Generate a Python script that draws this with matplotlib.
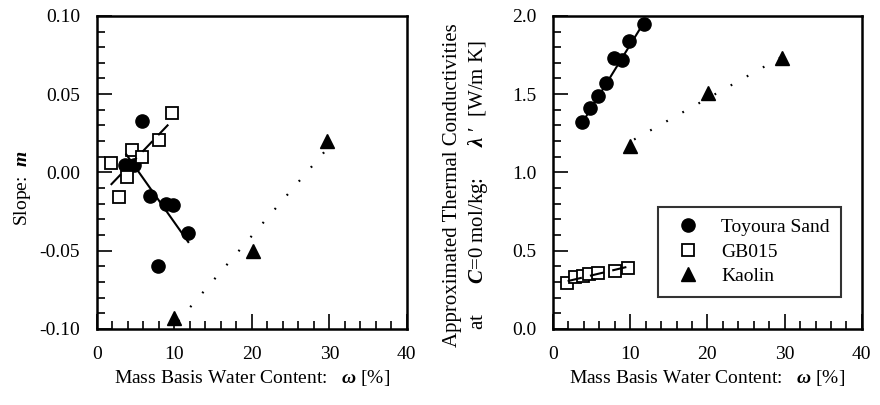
import numpy as np
import matplotlib
matplotlib.use('Agg')
import matplotlib.pyplot as plt

plt.rcParams['font.family'] = 'Liberation Serif'
plt.rcParams['mathtext.fontset'] = 'custom'
plt.rcParams['mathtext.rm'] = 'Liberation Serif'
plt.rcParams['mathtext.it'] = 'Liberation Serif:italic'
plt.rcParams['mathtext.bf'] = 'Liberation Serif:bold'
plt.rcParams['mathtext.bfit'] = 'Liberation Serif:italic:bold'

# Water content of the samples (%)
w_sand = [3.7, 4.8, 5.8, 6.9, 7.9, 8.9, 9.8, 11.8]
w_gb = [1.8, 2.9, 3.9, 4.6, 5.8, 8.0, 9.7]
w_kaolin = [10.0, 20.1, 29.7]

# Slope m
m_sand = [0.005, 0.005, 0.033, -0.015, -0.060, -0.020, -0.021, -0.039]
m_gb = [0.006, -0.016, -0.003, 0.014, 0.010, 0.021, 0.038]
m_kaolin = [-0.093, -0.050, 0.020]

# Approximated thermal conductivity at C=0 (W/m K)
lam_sand = [1.32, 1.41, 1.49, 1.57, 1.73, 1.72, 1.84, 1.95]
lam_gb = [0.29, 0.33, 0.34, 0.35, 0.36, 0.37, 0.39]
lam_kaolin = [1.17, 1.51, 1.73]

# Fitted lines (end points)
fit_m_sand_x, fit_m_sand_y = [3.8, 11.8], [0.0115, -0.0445]
fit_m_gb_x, fit_m_gb_y = [1.8, 9.7], [-0.008, 0.033]
fit_m_kaolin_x, fit_m_kaolin_y = [10.5, 29.7], [-0.095, 0.015]
fit_lam_sand_x, fit_lam_sand_y = [3.7, 11.8], [1.31, 1.96]
fit_lam_gb_x, fit_lam_gb_y = [1.9, 9.5], [0.305, 0.395]
fit_lam_kaolin_x, fit_lam_kaolin_y = [10.5, 29.7], [1.21, 1.74]

fs = 14
fig = plt.figure(figsize=(8.8, 4.05), dpi=100)


def style_axes(ax):
    for s in ax.spines.values():
        s.set_linewidth(1.8)
    ax.tick_params(axis='both', which='both', direction='in', top=False, right=False,
                   labelsize=fs, width=1.2)
    ax.tick_params(axis='both', which='major', length=11)
    ax.tick_params(axis='both', which='minor', length=5.5)
    ax.tick_params(axis='y', which='both', pad=12)
    ax.tick_params(axis='x', which='both', pad=12)
    ax.set_xlim(0, 40)
    ax.set_xticks([0, 10, 20, 30, 40])
    ax.set_xticks(np.arange(0, 41, 2), minor=True)
    ax.set_xlabel(r'Mass Basis Water Content:   $\mathbfit{ω}$ [%]', fontsize=fs, labelpad=4)


def draw_series(ax, xs, ys, fx, fy):
    ax.plot(xs[0], ys[0], 'o', color='k', markersize=9.5, label='Toyoura Sand', clip_on=False)
    ax.plot(xs[1], ys[1], 's', color='k', markerfacecolor='white', markeredgewidth=1.3,
            markersize=8.5, label='GB015', clip_on=False)
    ax.plot(xs[2], ys[2], '^', color='k', markersize=10, label='Kaolin', clip_on=False)
    ax.plot(fx[0], fy[0], '-', color='k', linewidth=1.5)
    ax.plot(fx[1], fy[1], color='k', linewidth=1.5, linestyle=(0, (7, 4)))
    ax.plot(fx[2], fy[2], color='k', linewidth=1.6, linestyle=(0, (0.8, 7.5)))


# Left panel: slope
ax1 = fig.add_axes([0.110, 0.188, 0.3523, 0.7728])
draw_series(ax1, [w_sand, w_gb, w_kaolin], [m_sand, m_gb, m_kaolin],
            [fit_m_sand_x, fit_m_gb_x, fit_m_kaolin_x],
            [fit_m_sand_y, fit_m_gb_y, fit_m_kaolin_y])
style_axes(ax1)
ax1.set_ylim(-0.1, 0.1)
ax1.set_yticks([-0.10, -0.05, 0.00, 0.05, 0.10])
ax1.set_yticklabels(['-0.10', '-0.05', '0.00', '0.05', '0.10'])
ax1.set_yticks(np.arange(-0.1, 0.1001, 0.01), minor=True)
ax1.set_ylabel(r'Slope:  $\mathbfit{m}$', fontsize=fs)
ax1.yaxis.set_label_coords(-0.205, 0.45)

# Right panel: thermal conductivity
ax2 = fig.add_axes([0.6284, 0.188, 0.351, 0.7728])
draw_series(ax2, [w_sand, w_gb, w_kaolin], [lam_sand, lam_gb, lam_kaolin],
            [fit_lam_sand_x, fit_lam_gb_x, fit_lam_kaolin_x],
            [fit_lam_sand_y, fit_lam_gb_y, fit_lam_kaolin_y])
style_axes(ax2)
ax2.set_ylim(0, 2.0)
ax2.set_yticks([0.0, 0.5, 1.0, 1.5, 2.0])
ax2.set_yticklabels(['0.0', '0.5', '1.0', '1.5', '2.0'])
ax2.set_yticks(np.arange(0, 2.001, 0.1), minor=True)
ax2.set_ylabel('Approximated Thermal Conductivities\n'
               r'at      $\mathbfit{C}$=0 mol/kg:      $\mathbfit{λ}$ ′  [W/m K]', fontsize=15)
ax2.yaxis.set_label_coords(-0.205, 0.46)

leg = ax2.legend(loc='upper left', bbox_to_anchor=(0.340, 0.39),
                 fontsize=fs, frameon=True, fancybox=False, borderaxespad=0,
                 handlelength=1.9, handletextpad=0.75, labelspacing=0.36, borderpad=0.6)
leg.get_frame().set_edgecolor('k')
leg.get_frame().set_linewidth(1.5)

fig.savefig('out.png', dpi=100)
